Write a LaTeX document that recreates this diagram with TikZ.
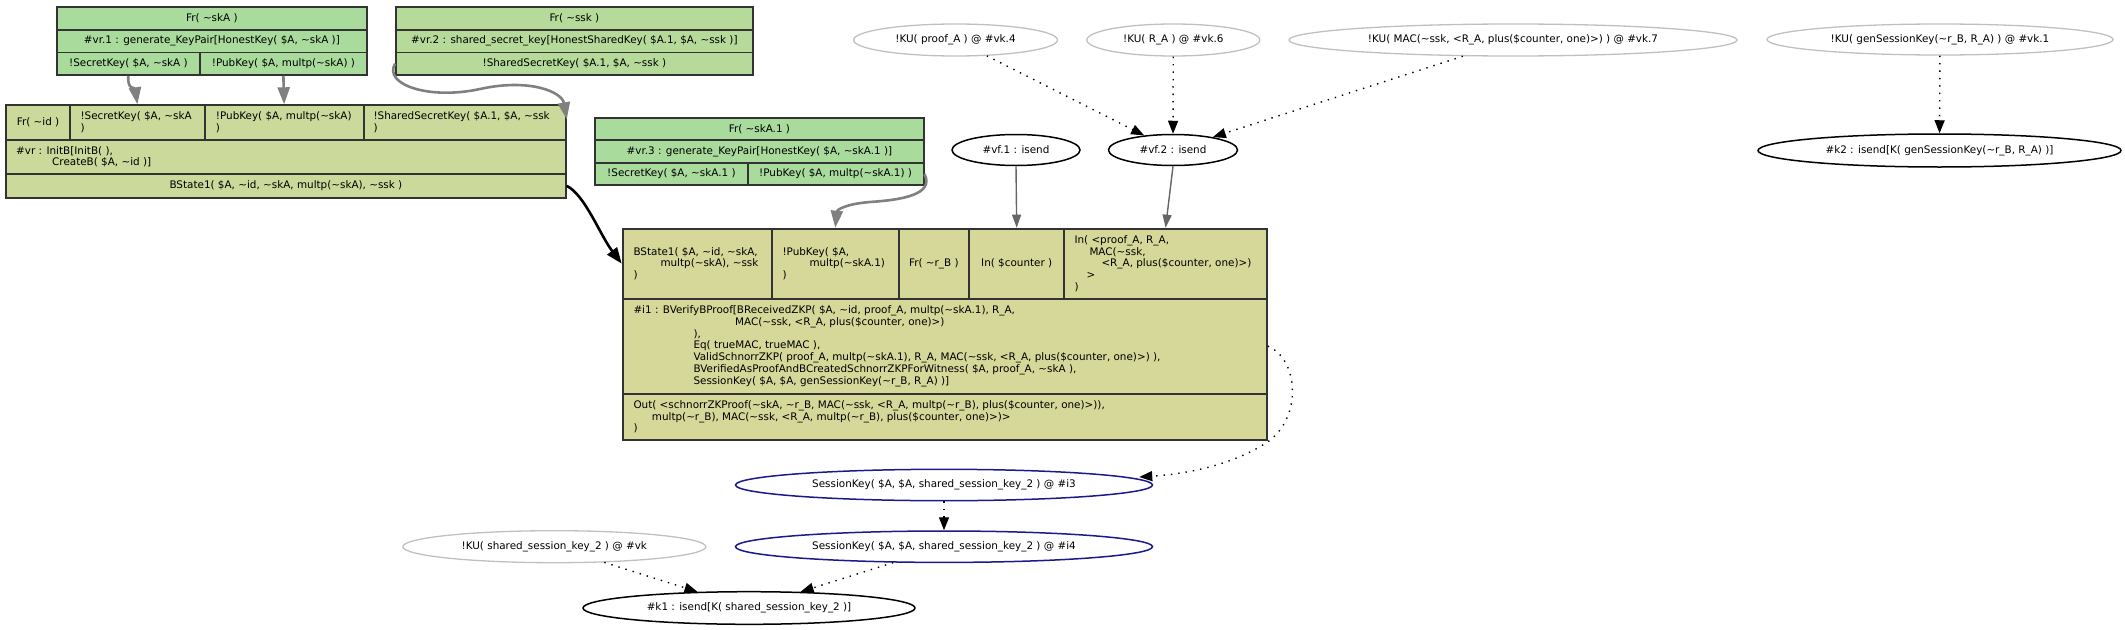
\documentclass[tikz,border=0pt]{standalone}
\usepackage{fontspec}
\setmainfont{DejaVu Sans}
\usetikzlibrary{positioning,shapes.geometric,arrows.meta}
\definecolor{frgreen}{HTML}{A8DB9C}
\definecolor{sskgreen}{HTML}{B5DA9A}
\definecolor{initolive}{HTML}{CBD99A}
\definecolor{ruleolive}{HTML}{D5D898}
\definecolor{cellline}{HTML}{333333}
\definecolor{kugray}{HTML}{C0C0C0}
\definecolor{lemnavy}{HTML}{1A1A8A}
\definecolor{premgray}{HTML}{808080}
\definecolor{vfgray}{HTML}{666666}
\newcommand\tld{\textasciitilde}
\tikzset{
  cell/.style={draw=cellline, line width=1.8pt, inner sep=0pt, anchor=north west},
  txt/.style={inner sep=0pt, align=left},
  kuell/.style={ellipse, draw=kugray, line width=1.3pt, inner sep=0pt},
  goalell/.style={ellipse, draw=black, line width=1.5pt, inner sep=0pt},
  lemell/.style={ellipse, draw=lemnavy, line width=1.5pt, inner sep=0pt},
  premedge/.style={draw=premgray, line width=2.6pt, -{Triangle[length=17pt,width=12pt]}},
  stateedge/.style={draw=black, line width=2.6pt, -{Triangle[length=16pt,width=12pt]}},
  vfedge/.style={draw=vfgray, line width=1.4pt, -{Triangle[length=13pt,width=9pt]}},
  kuedge/.style={draw=black, line width=1.4pt, dash pattern=on 1.4pt off 6pt, -{Triangle[length=13pt,width=10pt]}}
}
\begin{document}
\begin{tikzpicture}[x=1pt,y=-1pt,font=\fontsize{10.4}{11.8}\selectfont]
\useasboundingbox (0,0) rectangle (2125,629);
% Fr( ~skA )
\node[cell,fill=frgreen,minimum width=310pt,minimum height=23pt] (fa) at (56,6) {Fr( \tld skA )};
\node[cell,fill=frgreen,minimum width=310pt,minimum height=22.5pt] (fb) at (56,29) {\#vr.1 : generate\_KeyPair[HonestKey( \$A, \tld skA )]};
\node[cell,fill=frgreen,minimum width=143pt,minimum height=22.5pt] (fc) at (56,51.5) {!SecretKey( \$A, \tld skA )};
\node[cell,fill=frgreen,minimum width=167pt,minimum height=22.5pt] (fd) at (199,51.5) {!PubKey( \$A, multp(\tld skA) )};
% Fr( ~ssk )
\node[cell,fill=sskgreen,minimum width=357pt,minimum height=23pt] (ssa) at (395,6) {Fr( \tld ssk )};
\node[cell,fill=sskgreen,minimum width=357pt,minimum height=22.5pt] (ssb) at (395,29) {\#vr.2 : shared\_secret\_key[HonestSharedKey( \$A.1, \$A, \tld ssk )]};
\node[cell,fill=sskgreen,minimum width=357pt,minimum height=22.5pt] (ssc) at (395,51.5) {!SharedSecretKey( \$A.1, \$A, \tld ssk )};
% InitB
\node[cell,fill=initolive,minimum width=64.3pt,minimum height=34.4pt] (ba1) at (5,104.3) {Fr( \tld id )};
\node[cell,fill=initolive,minimum width=134.4pt,minimum height=34.4pt] (ba2) at (69.3,104.3) {};
\node[cell,fill=initolive,minimum width=159pt,minimum height=34.4pt] (ba3) at (203.7,104.3) {};
\node[cell,fill=initolive,minimum width=202.3pt,minimum height=34.4pt] (ba4) at (362.7,104.3) {};
\node[cell,fill=initolive,minimum width=560pt,minimum height=34.6pt] (bb) at (5,138.7) {};
\node[cell,fill=initolive,minimum width=560pt,minimum height=23.4pt] (bc) at (5,173.3) {BState1( \$A, \tld id, \tld skA, multp(\tld skA), \tld ssk )};
\node[txt,right=11pt of ba2.west] (tba2) {!SecretKey( \$A, \tld skA\\)};
\node[txt,right=12pt of ba3.west] (tba3) {!PubKey( \$A, multp(\tld skA)\\)};
\node[txt,right=10.6pt of ba4.west] (tba4) {!SharedSecretKey( \$A.1, \$A, \tld ssk\\)};
\node[txt,right=11pt of bb.west] (tbb) {\#vr : InitB[InitB( ),\\\hspace*{36pt}CreateB( \$A, \tld id )]};
% Fr( ~skA.1 )
\node[cell,fill=frgreen,minimum width=328.4pt,minimum height=22.6pt] (ka) at (594.3,116.7) {Fr( \tld skA.1 )};
\node[cell,fill=frgreen,minimum width=328.4pt,minimum height=22.7pt] (kb) at (594.3,139.3) {\#vr.3 : generate\_KeyPair[HonestKey( \$A, \tld skA.1 )]};
\node[cell,fill=frgreen,minimum width=152.4pt,minimum height=22.3pt] (kc) at (594.3,162) {!SecretKey( \$A, \tld skA.1 )};
\node[cell,fill=frgreen,minimum width=176pt,minimum height=22.3pt] (kd) at (746.7,162) {!PubKey( \$A, multp(\tld skA.1) )};
% BVerifyBProof
\node[cell,fill=ruleolive,minimum width=149.3pt,minimum height=70pt] (ma1) at (621.7,227.7) {};
\node[cell,fill=ruleolive,minimum width=126.7pt,minimum height=70pt] (ma2) at (771,227.7) {};
\node[cell,fill=ruleolive,minimum width=70.6pt,minimum height=70pt] (ma3) at (897.7,227.7) {Fr( \tld r\_B )};
\node[cell,fill=ruleolive,minimum width=95pt,minimum height=70pt] (ma4) at (968.3,227.7) {In( \$counter )};
\node[cell,fill=ruleolive,minimum width=202.7pt,minimum height=70pt] (ma5) at (1063.3,227.7) {};
\node[cell,fill=ruleolive,minimum width=644.3pt,minimum height=95pt] (mb) at (621.7,297.7) {};
\node[cell,fill=ruleolive,minimum width=644.3pt,minimum height=46.6pt] (mc) at (621.7,392.7) {};
\node[txt,right=11.6pt of ma1.west] (tma1) {BState1( \$A, \tld id, \tld skA,\\\hspace*{27pt}multp(\tld skA), \tld ssk\\)};
\node[txt,right=11.3pt of ma2.west] (tma2) {!PubKey( \$A,\\\hspace*{27pt}multp(\tld skA.1)\\)};
\node[txt,right=11pt of ma5.west] (tma5) {In( <proof\_A, R\_A,\\\hspace*{15pt}MAC(\tld ssk,\\\hspace*{27pt}<R\_A, plus(\$counter, one)>)\\\hspace*{12pt}>\\)};
\node[txt,right=11.6pt of mb.west] (tmb) {\#i1 : BVerifyBProof[BReceivedZKP( \$A, \tld id, proof\_A, multp(\tld skA.1), R\_A,\\\hspace*{101.7pt}MAC(\tld ssk, <R\_A, plus(\$counter, one)>)\\\hspace*{60pt}),\\\hspace*{60pt}Eq( trueMAC, trueMAC ),\\\hspace*{60pt}ValidSchnorrZKP( proof\_A, multp(\tld skA.1), R\_A, MAC(\tld ssk, <R\_A, plus(\$counter, one)>) ),\\\hspace*{60pt}BVerifiedAsProofAndBCreatedSchnorrZKPForWitness( \$A, proof\_A, \tld skA ),\\\hspace*{60pt}SessionKey( \$A, \$A, genSessionKey(\tld r\_B, R\_A) )]};
\node[txt,right=11.6pt of mc.west] (tmc) {Out( <schnorrZKProof(\tld skA, \tld r\_B, MAC(\tld ssk, <R\_A, multp(\tld r\_B), plus(\$counter, one)>)),\\\hspace*{18.4pt}multp(\tld r\_B), MAC(\tld ssk, <R\_A, multp(\tld r\_B), plus(\$counter, one)>)>\\)};
% ellipses
\node[kuell,minimum width=204pt,minimum height=32pt] (kuproof) at (955.5,40) {!KU( proof\_A ) @ \#vk.4};
\node[kuell,minimum width=173pt,minimum height=32pt] (kura) at (1173.3,40) {!KU( R\_A ) @ \#vk.6};
\node[kuell,minimum width=448pt,minimum height=32pt] (kumac) at (1513,40) {!KU( MAC(\tld ssk, <R\_A, plus(\$counter, one)>) ) @ \#vk.7};
\node[kuell,minimum width=346pt,minimum height=31pt] (kugen) at (1940,39.5) {!KU( genSessionKey(\tld r\_B, R\_A) ) @ \#vk.1};
\node[goalell,minimum width=128pt,minimum height=31pt] (vf1) at (1016,150) {\#vf.1 : isend};
\node[goalell,minimum width=129pt,minimum height=31pt] (vf2) at (1173,150) {\#vf.2 : isend};
\node[goalell,minimum width=363pt,minimum height=33pt] (k2) at (1939.5,150.5) {\#k2 : isend[K( genSessionKey(\tld r\_B, R\_A) )]};
\node[lemell,minimum width=417pt,minimum height=31.4pt] (i3) at (944,485) {SessionKey( \$A, \$A, shared\_session\_key\_2 ) @ \#i3};
\node[lemell,minimum width=417pt,minimum height=31.4pt] (i4) at (944,546.7) {SessionKey( \$A, \$A, shared\_session\_key\_2 ) @ \#i4};
\node[kuell,minimum width=303pt,minimum height=32pt] (kuvk) at (554.3,546.7) {!KU( shared\_session\_key\_2 ) @ \#vk};
\node[goalell,minimum width=332pt,minimum height=32.6pt] (k1) at (749,608) {\#k1 : isend[K( shared\_session\_key\_2 )]};
% edges
\draw[premedge] (fc.south) .. controls (127,90) and (135,88) .. (ba2.north);
\draw[premedge] (fd.south) -- (ba3.north);
\draw[premedge] (ssc.west) .. controls (383,85) and (430,100) .. (480,89) .. controls (530,78) and (562,92) .. ([yshift=-15pt]ba4.north east);
\draw[premedge] (kd.east) .. controls (935,195) and (900,200) .. (870,202) .. controls (845,204) and (837,210) .. (ma2.north);
\draw[stateedge] (bc.east) .. controls (585,195) and (600,235) .. (ma1.west);
\draw[vfedge] (vf1.south) -- (ma4.north);
\draw[vfedge] (vf2.south) -- (ma5.north);
\draw[kuedge] (kuproof) -- (vf2);
\draw[kuedge] (kura) -- (vf2);
\draw[kuedge] (kumac) -- (vf2);
\draw[kuedge] (kugen) -- (k2);
\draw[kuedge] (mb.east) .. controls (1300,360) and (1302,420) .. (1266,443) .. controls (1230,466) and (1185,474) .. ([xshift=-14pt,yshift=8pt]i3.east);
\draw[kuedge] (i3) -- (i4);
\draw[kuedge] (kuvk) -- (k1);
\draw[kuedge] (i4) -- (k1);
\end{tikzpicture}
\end{document}
